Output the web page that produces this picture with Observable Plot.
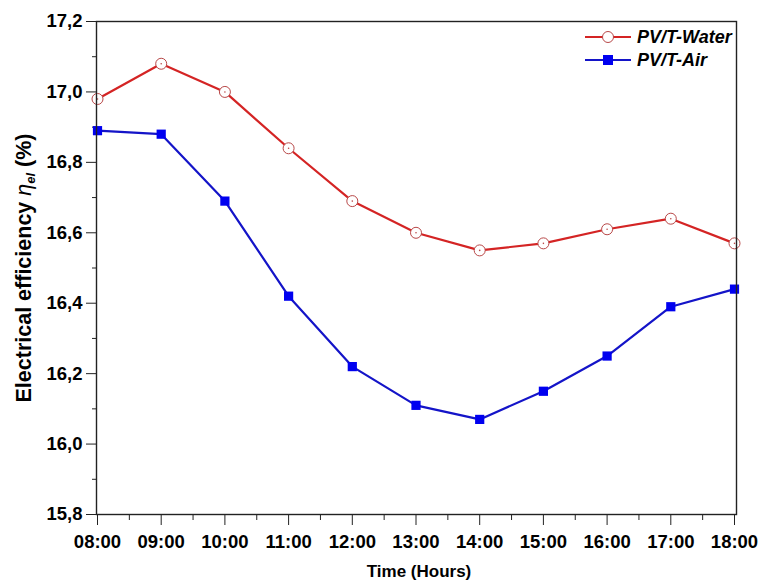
<!DOCTYPE html>
<html>
<head>
<meta charset="utf-8">
<script src="https://cdn.jsdelivr.net/npm/d3@7"></script>
<script src="https://cdn.jsdelivr.net/npm/@observablehq/plot@0.6"></script>
<style>
  html, body { margin: 0; padding: 0; background: #ffffff; }
  #chart svg { display: block; }
</style>
</head>
<body>
<div id="chart"></div>
<script>
// ---- data ----
const hours = [8, 9, 10, 11, 12, 13, 14, 15, 16, 17, 18];
const hourLabels = ["08:00", "09:00", "10:00", "11:00", "12:00", "13:00", "14:00", "15:00", "16:00", "17:00", "18:00"];
const waterEff = [16.98, 17.08, 17.00, 16.84, 16.69, 16.60, 16.55, 16.57, 16.61, 16.64, 16.57];
const airEff = [16.89, 16.88, 16.69, 16.42, 16.22, 16.11, 16.07, 16.15, 16.25, 16.39, 16.44];
const yTicks = [15.8, 16.0, 16.2, 16.4, 16.6, 16.8, 17.0, 17.2];
const yTickLabels = ["15,8", "16,0", "16,2", "16,4", "16,6", "16,8", "17,0", "17,2"];
const yMinor = [15.9, 16.1, 16.3, 16.5, 16.7, 16.9, 17.1];
const xMinor = [8.5, 9.5, 10.5, 11.5, 12.5, 13.5, 14.5, 15.5, 16.5, 17.5];
const seriesNames = ["PV/T-Water", "PV/T-Air"];

const rows = hours.map((h, i) => ({h, water: waterEff[i], air: airEff[i]}));

const RED = "#d42424";
const RED_MARK = "#b84848";
const BLUE = "#1414c8";
const BLUE_MARK = "#0000f0";

const chart = Plot.plot({
  width: 759,
  height: 581,
  marginLeft: 97,
  marginRight: 25,
  marginTop: 21,
  marginBottom: 67,
  style: {fontFamily: "'Liberation Sans', Arial, sans-serif", fontSize: "18.5px", fontWeight: "bold", color: "#000", background: "#fff"},
  x: {domain: [8, 18]},
  y: {domain: [15.8, 17.2]},
  marks: [
    Plot.axisX({ticks: hours, tickFormat: d => hourLabels[hours.indexOf(d)], tickSize: 11, tickPadding: 9, label: null, fontWeight: "bold", fontSize: 18.5, stroke: "#222"}),
    Plot.axisX({ticks: xMinor, tickFormat: () => "", tickSize: 6, label: null, stroke: "#222"}),
    Plot.axisY({ticks: yTicks, tickFormat: d => yTickLabels[yTicks.indexOf(d)], tickSize: 11, tickPadding: 4, label: null, fontWeight: "bold", fontSize: 18.5, stroke: "#222"}),
    Plot.axisY({ticks: yMinor, tickFormat: () => "", tickSize: 5, label: null, stroke: "#222"}),
    Plot.line(rows, {x: "h", y: "water", stroke: RED, strokeWidth: 2.2}),
    Plot.line(rows, {x: "h", y: "air", stroke: BLUE, strokeWidth: 2.2}),
    Plot.dot(rows, {x: "h", y: "water", r: 5.5, fill: "#fff", stroke: RED_MARK, strokeWidth: 1}),
    Plot.dot(rows, {x: "h", y: "water", r: 0.8, fill: RED_MARK}),
    Plot.dot(rows, {x: "h", y: "air", r: 5.2, symbol: "square", fill: BLUE_MARK, stroke: "none"}),
    Plot.frame({stroke: "#222", strokeWidth: 1.4, insetLeft: -1, insetRight: -2})
  ]
});

document.getElementById("chart").appendChild(chart);

// ---- axis titles & legend ----
const svg = d3.select(chart);
const fontFam = "'Liberation Sans', Arial, sans-serif";

const yl = svg.append("text")
  .attr("transform", "translate(31,268) rotate(-90)")
  .attr("text-anchor", "middle")
  .attr("font-family", fontFam)
  .attr("font-size", 21.5)
  .attr("font-weight", "bold")
  .attr("fill", "#000");
yl.append("tspan").text("Electrical efficiency ");
yl.append("tspan").attr("font-style", "italic").attr("font-weight", "normal").text("η");
yl.append("tspan").attr("font-style", "italic").attr("font-size", 13).attr("dy", 4).text("el");
yl.append("tspan").attr("dy", -4).text(" (%)");

svg.append("text")
  .attr("x", 419).attr("y", 577)
  .attr("text-anchor", "middle")
  .attr("font-family", fontFam)
  .attr("font-size", 17)
  .attr("font-weight", "bold")
  .attr("fill", "#000")
  .text("Time (Hours)");

const legend = [
  {name: seriesNames[0], y: 37, line: RED},
  {name: seriesNames[1], y: 60, line: BLUE}
];
legend.forEach((L, i) => {
  svg.append("line").attr("x1", 585).attr("x2", 631).attr("y1", L.y).attr("y2", L.y)
    .attr("stroke", L.line).attr("stroke-width", 2.2);
  if (i === 0) {
    svg.append("circle").attr("cx", 608).attr("cy", L.y).attr("r", 5.5)
      .attr("fill", "#fff").attr("stroke", RED_MARK).attr("stroke-width", 1);
  } else {
    svg.append("rect").attr("x", 603).attr("y", L.y - 5).attr("width", 10).attr("height", 10)
      .attr("fill", BLUE_MARK);
  }
  svg.append("text").attr("x", 637).attr("y", L.y + 6)
    .attr("text-anchor", "start")
    .attr("font-family", fontFam).attr("font-size", 18)
    .attr("font-weight", "bold").attr("font-style", "italic").attr("fill", "#000")
    .text(L.name);
});
</script>
</body>
</html>
